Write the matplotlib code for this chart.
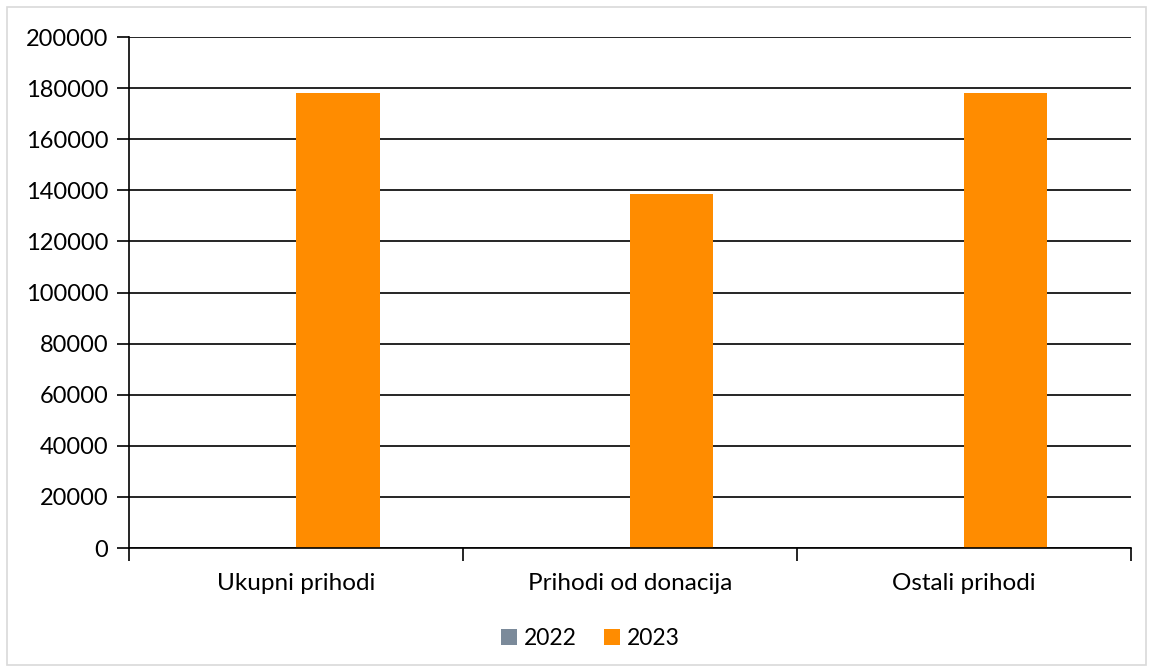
import matplotlib.pyplot as plt
from matplotlib.patches import Rectangle
import numpy as np

# Data
categories = ["Ukupni prihodi", "Prihodi od donacija", "Ostali prihodi"]
years = ["2022", "2023"]
values_2022 = [0, 0, 0]
values_2023 = [178000, 138500, 178000]
y_ticks = [0, 20000, 40000, 60000, 80000, 100000, 120000, 140000, 160000, 180000, 200000]

plt.rcParams['font.family'] = ['Lato', 'DejaVu Sans']

fig = plt.figure(figsize=(11.53, 6.72), dpi=100)
ax = fig.add_axes([0.1119, 0.1845, 0.8690, 0.7604])

# outer light grey frame like the Excel chart area
fig.patches.append(Rectangle((0.006, 0.01), 0.988, 0.98, transform=fig.transFigure,
                             fill=False, edgecolor='#d9d9d9', linewidth=1.2))

x = np.arange(len(categories))
w = 0.25
ax.bar(x - w / 2, values_2022, w, color='#7b8a9a', label=years[0])
ax.bar(x + w / 2, values_2023, w, color='#ff8c00', label=years[1])

ax.set_xlim(-0.5, len(categories) - 0.5)
ax.set_ylim(0, 200000)
ax.set_yticks(y_ticks)
ax.set_yticklabels([str(v) for v in y_ticks])
ax.yaxis.grid(True, color='black', linewidth=1.2)
ax.set_axisbelow(True)

ax.set_xticks(x)
ax.set_xticklabels(categories)
ax.set_xticks(np.arange(len(categories) + 1) - 0.5, minor=True)
ax.tick_params(axis='x', which='major', length=0, pad=18, labelsize=17.5)
ax.tick_params(axis='x', which='minor', length=9, width=1.2, direction='out')
ax.tick_params(axis='y', length=9, width=1.2, pad=6, labelsize=17)

for s in ['top', 'right']:
    ax.spines[s].set_visible(False)
for s in ['left', 'bottom']:
    ax.spines[s].set_linewidth(1.2)
    ax.spines[s].set_color('black')

fig.legend(loc='center', bbox_to_anchor=(0.512, 0.05), ncol=2, frameon=False,
           fontsize=16.5, handlelength=0.7, handleheight=0.7, handletextpad=0.3,
           columnspacing=1.2)

fig.savefig('out.png', dpi=100)
